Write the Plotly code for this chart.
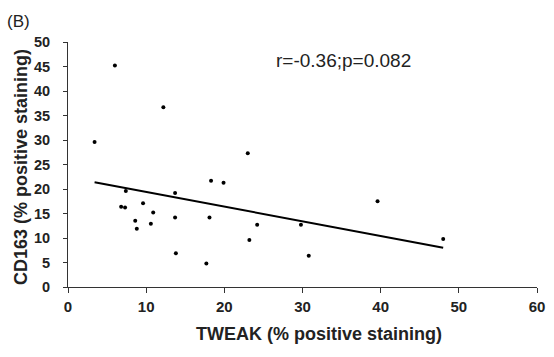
import numpy as np
import plotly.graph_objects as go

tweak = [6.0, 12.2, 3.4, 23.0, 7.4, 6.8, 7.3, 8.6, 8.8, 9.6, 10.6, 10.9, 13.7, 13.7, 13.8,
         17.7, 18.1, 18.3, 19.9, 23.2, 24.2, 29.8, 30.8, 39.6, 48.0]
cd163 = [45.2, 36.7, 29.6, 27.3, 19.6, 16.4, 16.2, 13.5, 11.9, 17.1, 12.9, 15.2, 19.2, 14.2, 6.9,
         4.8, 14.2, 21.7, 21.3, 9.6, 12.7, 12.7, 6.4, 17.5, 9.8]
x_ticks = [0, 10, 20, 30, 40, 50, 60]
y_ticks = [0, 5, 10, 15, 20, 25, 30, 35, 40, 45, 50]
annot_text = "r=-0.36;p=0.082"
x_title = "<b>TWEAK (% positive staining)</b>"
y_title = "<b>CD163 (% positive staining)</b>"

slope, intercept = np.polyfit(tweak, cd163, 1)
fx = np.array([min(tweak), max(tweak)])
fy = slope * fx + intercept

FONT = "Arial, Liberation Sans, sans-serif"
PW, PH = 477, 245

fig = go.Figure()
fig.add_trace(go.Scatter(x=tweak, y=cd163, mode="markers",
                         marker=dict(color="black", size=4), showlegend=False))
fig.add_trace(go.Scatter(x=fx, y=fy, mode="lines",
                         line=dict(color="black", width=2), showlegend=False))

fig.update_layout(
    width=554, height=357,
    margin=dict(l=68, r=9, t=42, b=70),
    plot_bgcolor="white", paper_bgcolor="white",
    font=dict(family=FONT, color="black"),
    xaxis=dict(range=[0, 60], tickvals=x_ticks, showline=True, linecolor="#333",
               linewidth=1, ticks="outside", ticklen=5, tickcolor="#333",
               showgrid=False, zeroline=False, ticklabelstandoff=1,
               tickfont=dict(size=15, family=FONT, weight="bold", color="#222")),
    yaxis=dict(range=[0, 50], tickvals=y_ticks, showline=True, linecolor="#333",
               linewidth=1, ticks="outside", ticklen=4, tickcolor="#333",
               showgrid=False, zeroline=False, ticklabelstandoff=10,
               tickfont=dict(size=14.5, family=FONT, weight="bold", color="#222")),
    annotations=[
        dict(text=annot_text, x=26.4, y=46.3, xref="x", yref="y", xanchor="left",
             yanchor="middle", showarrow=False, font=dict(size=19, color="#222")),
        dict(text="(B)", x=-64/PW, y=1 + 20/PH, xref="paper", yref="paper",
             xanchor="left", yanchor="middle", showarrow=False,
             font=dict(size=17, color="#222")),
        dict(text=x_title, x=(323.7-68)/PW, y=-(334-287.3)/PH, xref="paper", yref="paper",
             xanchor="center", yanchor="middle", showarrow=False,
             font=dict(size=18, color="#222")),
        dict(text=y_title, x=(20-68)/PW, y=(287.3-167.5)/PH, xref="paper", yref="paper",
             xanchor="center", yanchor="middle", showarrow=False, textangle=-90,
             font=dict(size=18, color="#222")),
    ],
)

fig.write_html("out.html")
